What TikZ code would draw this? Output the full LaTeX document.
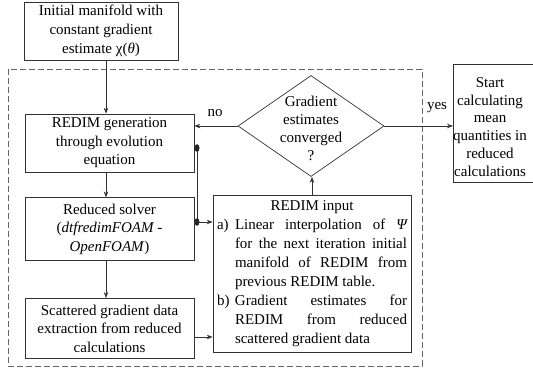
\documentclass[tikz,border=0pt]{standalone}
\usepackage{fontspec}
\setmainfont{Liberation Serif}
\usetikzlibrary{arrows.meta,shapes.geometric,positioning}
\tikzstyle{block} = [rectangle, draw=black!80, line width=0.7pt, align=center, inner sep=2pt, font=\fontsize{15}{18.5}\selectfont]
\tikzstyle{decision} = [diamond, draw=black!80, line width=0.7pt, minimum width=146pt, minimum height=101pt, inner sep=0pt]
\tikzstyle{arrow} = [draw=black!80, line width=0.7pt, ->, >={Stealth[length=6pt,width=4.5pt]}]
\tikzstyle{line} = [draw=black!80, line width=0.7pt]
\tikzstyle{tag} = [inner sep=0pt, font=\fontsize{15}{18}\selectfont]

\begin{document}
\begin{tikzpicture}[x=1pt, y=-1pt]
\useasboundingbox (0,0) rectangle (533,374);
\clip (0,0) rectangle (533,374);
\draw[draw=black!60, line width=0.8pt, dash pattern=on 6pt off 3pt] (8,69) rectangle (422,366);
\node (init) [block, minimum width=154pt, minimum height=58pt, font=\fontsize{15}{19}\selectfont] at (101,31) {Initial manifold with\\constant gradient\\estimate χ({\itshape θ})};
\node (gen) [block, minimum width=169pt, minimum height=58pt] at (109.5,143) {REDIM generation\\through evolution\\equation};
\node (solver) [block, minimum width=169pt, minimum height=63pt, below=25pt of gen] {Reduced solver\\(\textit{dtfredimFOAM -}\\\textit{OpenFOAM})};
\node (scatter) [block, minimum width=169pt, minimum height=60pt, below=37pt of solver] {Scattered gradient data\\extraction from reduced\\calculations};
\node (input) [block, text width=190pt, align=justify, inner sep=4pt, minimum height=157pt, font=\fontsize{15}{19}\selectfont] at (312,273.5) {{\centering REDIM input\par}
\hangindent=18pt\hangafter=1\noindent\makebox[18pt][l]{a)}Linear interpolation of {\itshape Ψ}\linebreak for the next iteration initial\linebreak manifold of REDIM from\linebreak previous REDIM table.\par
\hangindent=18pt\hangafter=1\noindent\makebox[18pt][l]{b)}Gradient estimates for\linebreak REDIM from reduced\linebreak scattered gradient data\par};
\node (conv) [decision] at (311,126) {};
\node (convtext) [tag, align=center] at (311,128) {Gradient\\estimates\\converged\\?};
\node (start) [block, anchor=north west, minimum width=120pt, minimum height=118pt] at (453,64) {};
\node (starttext) [tag, align=center, font=\fontsize{15}{17.8}\selectfont] at (490,127) {Start\\calculating\\mean\\quantities in\\reduced\\calculations};
\node (no) [tag] at (215,113) {no};
\node (yes) [tag] at (437,108) {yes};
\coordinate (colx) at (106,0);
\coordinate (dottop) at (197,148);
\coordinate (dotbot) at (197,222);
\draw[arrow] (init.south -| colx) -- (gen.north -| colx);
\draw[arrow] (gen.south -| colx) -- (solver.north -| colx);
\draw[arrow] (solver.south -| colx) -- (scatter.north -| colx);
\draw[arrow] (scatter.east |- 0,337) -- (input.west |- 0,337);
\draw[arrow] (input.north -| 312,0) -- (conv.south -| 312,0);
\draw[arrow] (conv.west) -- (conv.west -| gen.east);
\draw[arrow] (conv.east) -- (conv.east -| start.west);
\draw[line] (gen.east |- dottop) -- (dottop) -- (dotbot);
\draw[arrow] (dotbot) -- (input.west |- dotbot);
\fill[black!85] (dottop) ellipse (2.5pt and 3.8pt);
\fill[black!85] (dotbot) ellipse (2.5pt and 3.8pt);
\end{tikzpicture}
\end{document}
